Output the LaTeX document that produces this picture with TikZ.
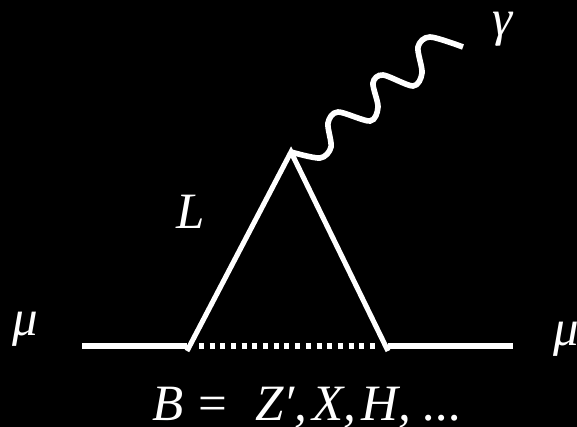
\documentclass[tikz,border=0pt]{standalone}
\usepackage{fontspec}
\setmainfont{Liberation Serif}
\tikzset{
    fermion/.style={white, line width=1.45pt},
    boson/.style={white, line width=1.45pt, dash pattern=on 1.42pt off 1.62pt},
    photon/.style={white, line width=1.6pt},
    label/.style={white, font=\fontsize{14.5}{16}\selectfont\itshape, anchor=base, inner sep=0pt}
}
\begin{document}
\begin{tikzpicture}[scale=1.0]
    % Background
    \fill[black] (0,0) rectangle (5.77,4.27);
    \useasboundingbox (0,0) rectangle (5.77,4.27);

    % Vertices and free ends
    \coordinate (top) at (2.91,2.75);
    \coordinate (left) at (1.87,0.76);
    \coordinate (right) at (3.88,0.76);
    \coordinate (in) at (0.82,0.81);
    \coordinate (out) at (5.13,0.81);
    \coordinate (leftdot) at (1.99,0.81);
    \coordinate (rightdot) at (3.76,0.81);

    % Muon line
    \draw[fermion] (in) -- (left |- in);
    \draw[fermion] (right |- out) -- (out);

    % Loop
    \draw[fermion] (left) -- (top) -- (right);
    \draw[boson] (leftdot) -- (rightdot);

    % Photon
    \draw[photon] plot[smooth, tension=0.5] coordinates {(top) (3.20,2.69) (3.31,2.80) (3.28,3.04)
        (3.38,3.15) (3.70,3.06) (3.78,3.20) (3.73,3.44) (3.83,3.52) (4.13,3.41)
        (4.22,3.54) (4.18,3.80) (4.30,3.90) (4.63,3.80)};

    % Labels
    \node[label] (mul) at (0.25,0.91) {μ};
    \node[label] (mur) at (5.66,0.81) {μ};
    \node[label] (loop) at (1.91,1.98) {L};
    \node[label] (gamma) at (5.03,3.91) {γ};
    \node[label] (bos) at (3.07,0.07) {B\hspace{0.3em}{\upshape =}\hspace{0.55em}Z′,\hspace{0.1em}X,\hspace{0.1em}H,\hspace{0.25em}...};
\end{tikzpicture}
\end{document}
